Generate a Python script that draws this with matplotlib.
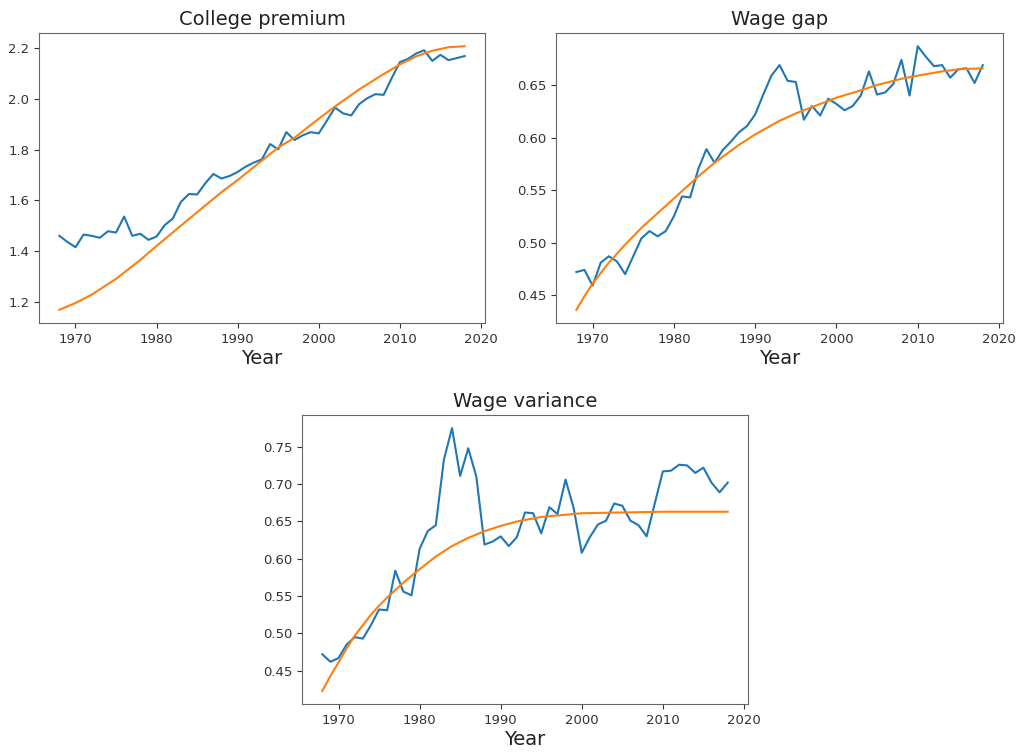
import numpy as np
import matplotlib
matplotlib.use("Agg")
import matplotlib.pyplot as plt

# Anos observados
years = list(range(1968, 2019))

# College premium (observado)
college_obs = [1.460, 1.436, 1.415, 1.465, 1.460, 1.452, 1.478, 1.473, 1.536, 1.460,
               1.468, 1.444, 1.457, 1.502, 1.528, 1.594, 1.625, 1.623, 1.667, 1.704,
               1.686, 1.696, 1.712, 1.733, 1.749, 1.762, 1.822, 1.801, 1.869, 1.838,
               1.856, 1.869, 1.864, 1.914, 1.966, 1.943, 1.935, 1.980, 2.003, 2.019,
               2.016, 2.082, 2.145, 2.158, 2.179, 2.192, 2.150, 2.174, 2.153, 2.161,
               2.169]
# College premium (modelo)
college_fit_years = [1968, 1970, 1972, 1975, 1978, 1980, 1983, 1985, 1988, 1990,
                     1993, 1995, 1997, 2000, 2002, 2005, 2008, 2010, 2012, 2014,
                     2016, 2018]
college_fit = [1.168, 1.195, 1.228, 1.290, 1.365, 1.420, 1.500, 1.553, 1.632, 1.680,
               1.757, 1.808, 1.847, 1.922, 1.970, 2.038, 2.098, 2.136, 2.168, 2.190,
               2.204, 2.208]

# Wage gap (observado)
gap_obs = [0.472, 0.474, 0.459, 0.481, 0.487, 0.482, 0.470, 0.487, 0.504, 0.511,
           0.506, 0.511, 0.525, 0.544, 0.543, 0.570, 0.589, 0.576, 0.588, 0.596,
           0.605, 0.611, 0.622, 0.641, 0.659, 0.669, 0.654, 0.653, 0.617, 0.630,
           0.621, 0.637, 0.632, 0.626, 0.630, 0.640, 0.663, 0.641, 0.643, 0.651,
           0.674, 0.640, 0.687, 0.677, 0.668, 0.669, 0.657, 0.665, 0.666, 0.652,
           0.669]
# Wage gap (modelo)
gap_fit_years = [1968, 1969, 1970, 1972, 1974, 1976, 1978, 1980, 1983, 1985,
                 1988, 1990, 1993, 1995, 1998, 2000, 2003, 2005, 2008, 2010,
                 2013, 2015, 2018]
gap_fit = [0.436, 0.449, 0.461, 0.481, 0.498, 0.514, 0.528, 0.542, 0.563, 0.576,
           0.593, 0.603, 0.616, 0.623, 0.632, 0.638, 0.645, 0.650, 0.656, 0.659,
           0.663, 0.665, 0.666]

# Wage variance (observado)
var_obs = [0.472, 0.462, 0.467, 0.485, 0.495, 0.493, 0.511, 0.532, 0.531, 0.584,
           0.556, 0.551, 0.613, 0.637, 0.645, 0.733, 0.775, 0.711, 0.748, 0.710,
           0.619, 0.623, 0.630, 0.617, 0.629, 0.662, 0.661, 0.634, 0.669, 0.660,
           0.706, 0.668, 0.608, 0.629, 0.646, 0.651, 0.674, 0.671, 0.651, 0.645,
           0.630, 0.674, 0.717, 0.718, 0.726, 0.725, 0.715, 0.722, 0.702, 0.689,
           0.702]
# Wage variance (modelo)
var_fit_years = [1968, 1969, 1970, 1971, 1972, 1974, 1975, 1976, 1978, 1980,
                 1982, 1984, 1986, 1988, 1990, 1992, 1995, 1998, 2000, 2005,
                 2010, 2018]
var_fit = [0.423, 0.443, 0.461, 0.480, 0.497, 0.525, 0.537, 0.548, 0.568, 0.586,
           0.603, 0.617, 0.628, 0.637, 0.644, 0.650, 0.656, 0.659, 0.661, 0.662,
           0.663, 0.663]

titles = ["College premium", "Wage gap", "Wage variance"]
yticks = [[1.2, 1.4, 1.6, 1.8, 2.0, 2.2],
          [0.45, 0.50, 0.55, 0.60, 0.65],
          [0.45, 0.50, 0.55, 0.60, 0.65, 0.70, 0.75]]
yfmt = ["%.1f", "%.2f", "%.2f"]

fig = plt.figure(figsize=(10.21, 7.54), dpi=100)
positions = [[0.0382, 0.5716, 0.4368, 0.3846],
             [0.5446, 0.5716, 0.4378, 0.3846],
             [0.2958, 0.0663, 0.4368, 0.3833]]
series = [(college_obs, college_fit_years, college_fit),
          (gap_obs, gap_fit_years, gap_fit),
          (var_obs, var_fit_years, var_fit)]

for i in range(3):
    ax = fig.add_axes(positions[i])
    obs, fy, fv = series[i]
    ax.plot(years, obs, color="#1f77b4", lw=1.5)
    ax.plot(fy, fv, color="#ff7f0e", lw=1.5)
    ax.set_title(titles[i], fontsize=14, color="#222222")
    ax.set_xlabel("Year", fontsize=14, color="#222222", labelpad=2)
    ax.set_xticks([1970, 1980, 1990, 2000, 2010, 2020])
    ax.set_yticks(yticks[i])
    ax.set_yticklabels([yfmt[i] % v for v in yticks[i]])
    ax.tick_params(labelsize=9.5, colors="#333333")
    for s in ax.spines.values():
        s.set_color("#666666")

fig.savefig("out.png", dpi=100)
